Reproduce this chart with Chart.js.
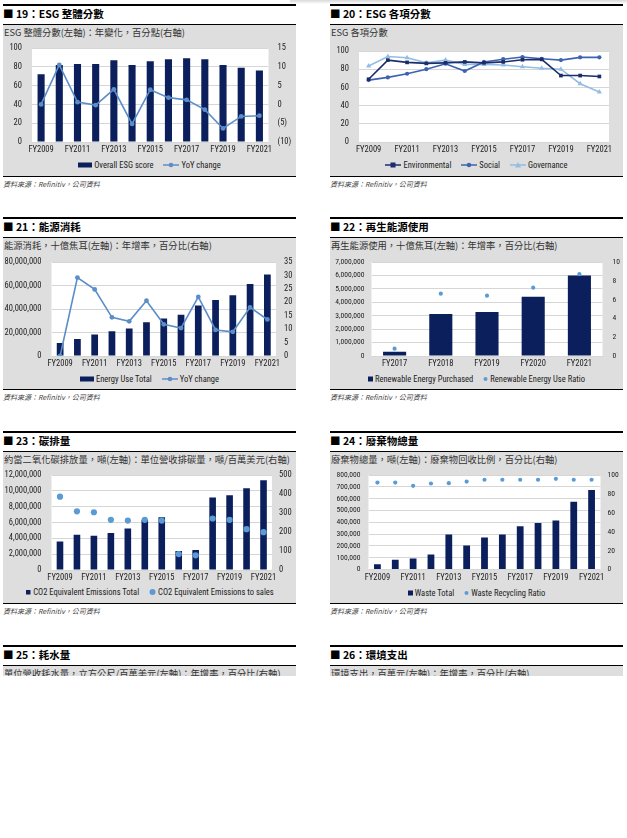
<!DOCTYPE html>
<html><head><meta charset="utf-8">
<script src="https://cdn.jsdelivr.net/npm/chart.js@4.4.0/dist/chart.umd.min.js"></script>
<style>
html,body{margin:0;padding:0;background:#fff;}
body{width:627px;height:838px;position:relative;overflow:hidden;font-family:'Noto Sans CJK TC','Noto Sans',sans-serif;}
.topfade{position:absolute;left:290px;right:0;top:0;height:4px;background:linear-gradient(#d8d8d8,#fff);}
.sec{position:absolute;width:293px;height:186px;}
.tl{position:absolute;left:0;right:0;top:0;height:2px;background:#000;}
.ttl{position:absolute;left:0;top:2px;height:16px;line-height:16px;font-size:10.5px;font-weight:700;color:#000;white-space:nowrap;}
.box{position:absolute;left:0;right:0;top:20px;height:151px;background:#dedede;border-top:1px solid #000;border-bottom:1.5px solid #000;}
.sub{position:absolute;left:1px;top:0px;font-size:9.3px;line-height:14px;color:#333;white-space:nowrap;}
.src{position:absolute;left:0;top:175px;line-height:10px;font-style:italic;font-size:7px;color:#444;white-space:nowrap;}
.leg{position:absolute;left:0;right:0;height:12px;display:flex;justify-content:center;align-items:center;font-family:'Roboto Condensed','DejaVu Sans Condensed',sans-serif;font-size:8.5px;color:#222;white-space:nowrap;}
.leg .it{display:flex;align-items:center;margin:0 5px;}
.leg svg{margin-right:1px;}
canvas{position:absolute;}
.cut{height:10px;border-bottom:none;overflow:hidden;}
</style>
</head><body>
<div class="topfade"></div>

<div class="sec" style="left:3px;top:4px"><div class="tl"></div><div class="ttl">■ 19：ESG 整體分數</div>
 <div class="box"><div class="sub">ESG 整體分數(左軸)：年變化，百分點(右軸)</div></div>
 <div class="leg" style="top:155px">
  <span class="it"><svg width="15" height="6"><rect x="0" y="0.5" width="14" height="5" fill="#0b1f5c"/></svg>Overall ESG score</span>
  <span class="it"><svg width="17" height="8"><line x1="0" y1="4" x2="16" y2="4" stroke="#5b8ec8" stroke-width="1.5"/><circle cx="8" cy="4" r="2.3" fill="#5b8ec8"/></svg>YoY change</span>
 </div>
 <div class="src">資料來源：Refinitiv，公司資料</div></div>

<div class="sec" style="left:330px;top:4px"><div class="tl"></div><div class="ttl">■ 20：ESG 各項分數</div>
 <div class="box"><div class="sub">ESG 各項分數</div></div>
 <div class="leg" style="top:155px">
  <span class="it"><svg width="17" height="8"><line x1="0" y1="4" x2="16" y2="4" stroke="#1c2d6b" stroke-width="1.5"/><rect x="5.5" y="1.5" width="5" height="5" fill="#1c2d6b"/></svg>Environmental</span>
  <span class="it"><svg width="17" height="8"><line x1="0" y1="4" x2="16" y2="4" stroke="#3d63b0" stroke-width="1.5"/><circle cx="8" cy="4" r="2.2" fill="#3d63b0"/></svg>Social</span>
  <span class="it"><svg width="17" height="8"><line x1="0" y1="4" x2="16" y2="4" stroke="#93bde3" stroke-width="1.5"/><polygon points="8,1 11,6.5 5,6.5" fill="#93bde3"/></svg>Governance</span>
 </div>
 <div class="src">資料來源：Refinitiv，公司資料</div></div>

<div class="sec" style="left:3px;top:217px"><div class="tl"></div><div class="ttl">■ 21：能源消耗</div>
 <div class="box"><div class="sub">能源消耗，十億焦耳(左軸)：年增率，百分比(右軸)</div></div>
 <div class="leg" style="top:156px">
  <span class="it"><svg width="15" height="6"><rect x="0" y="0.5" width="14" height="5" fill="#0b1f5c"/></svg>Energy Use Total</span>
  <span class="it"><svg width="17" height="8"><line x1="0" y1="4" x2="16" y2="4" stroke="#5b8ec8" stroke-width="1.5"/><circle cx="8" cy="4" r="2.3" fill="#5b8ec8"/></svg>YoY change</span>
 </div>
 <div class="src">資料來源：Refinitiv，公司資料</div></div>

<div class="sec" style="left:330px;top:217px"><div class="tl"></div><div class="ttl">■ 22：再生能源使用</div>
 <div class="box"><div class="sub">再生能源使用，十億焦耳(左軸)：年增率，百分比(右軸)</div></div>
 <div class="leg" style="top:156px">
  <span class="it"><svg width="6" height="6"><rect x="0" y="0.5" width="5" height="5" fill="#0b1f5c"/></svg>Renewable Energy Purchased</span>
  <span class="it"><svg width="6" height="6"><circle cx="2.5" cy="3" r="2" fill="#5b9bd5"/></svg>Renewable Energy Use Ratio</span>
 </div>
 <div class="src">資料來源：Refinitiv，公司資料</div></div>

<div class="sec" style="left:3px;top:431px"><div class="tl"></div><div class="ttl">■ 23：碳排量</div>
 <div class="box"><div class="sub">約當二氧化碳排放量，噸(左軸)：單位營收排碳量，噸/百萬美元(右軸)</div></div>
 <div class="leg" style="top:155px">
  <span class="it"><svg width="7" height="6"><rect x="1" y="1" width="4.5" height="4.5" fill="#0b1f5c"/></svg>CO2 Equivalent Emissions Total</span>
  <span class="it"><svg width="8" height="8"><circle cx="3.5" cy="4" r="3" fill="#5b9bd5"/></svg>CO2 Equivalent Emissions to sales</span>
 </div>
 <div class="src">資料來源：Refinitiv，公司資料</div></div>

<div class="sec" style="left:330px;top:431px"><div class="tl"></div><div class="ttl">■ 24：廢棄物總量</div>
 <div class="box"><div class="sub">廢棄物總量，噸(左軸)：廢棄物回收比例，百分比(右軸)</div></div>
 <div class="leg" style="top:156px">
  <span class="it"><svg width="6" height="6"><rect x="0" y="0.5" width="5" height="5" fill="#0b1f5c"/></svg>Waste Total</span>
  <span class="it"><svg width="6" height="6"><circle cx="2.5" cy="3" r="2" fill="#5b9bd5"/></svg>Waste Recycling Ratio</span>
 </div>
 <div class="src">資料來源：Refinitiv，公司資料</div></div>

<div class="sec" style="left:3px;top:645px"><div class="tl"></div><div class="ttl">■ 25：耗水量</div>
 <div class="box cut"><div class="sub">單位營收耗水量，立方公尺/百萬美元(左軸)：年增率，百分比(右軸)</div></div></div>
<div class="sec" style="left:330px;top:645px"><div class="tl"></div><div class="ttl">■ 26：環境支出</div>
 <div class="box cut"><div class="sub">環境支出，百萬元(左軸)：年增率，百分比(右軸)</div></div></div>

<canvas id="c19"></canvas><canvas id="c20"></canvas><canvas id="c21"></canvas>
<canvas id="c22"></canvas><canvas id="c23"></canvas><canvas id="c24"></canvas>

<script>
// ---------------- data ----------------
const YEARS = ['FY2009','FY2010','FY2011','FY2012','FY2013','FY2014','FY2015','FY2016','FY2017','FY2018','FY2019','FY2020','FY2021'];
const YEAR_TICKS = ['FY2009','','FY2011','','FY2013','','FY2015','','FY2017','','FY2019','','FY2021'];
const YEARS_RE = ['FY2017','FY2018','FY2019','FY2020','FY2021'];

const ESG_SCORE = [72,82,83,83,87,82,86,88,89,88,82,79,76];
const ESG_YOY = [0,10.5,0.6,-0.2,4.0,-5.2,3.9,1.8,1.2,-1.4,-6.4,-3.2,-3.0];

const ENVIRONMENTAL = [69,90,87.5,86.4,87,88,87,88,90.4,90.8,73,73,72];
const SOCIAL = [68,71,75,80,86,78,88,91,93.4,91.5,90,93,93];
const GOVERNANCE = [83.5,94,92.6,87,90,85.3,85.3,84.6,82.7,81,80,64,55];

const ENERGY_TOTAL = [11.0e6,14.5e6,18.2e6,21.0e6,23.5e6,28.7e6,32.0e6,35.2e6,43.0e6,47.6e6,51.6e6,61.2e6,69.3e6];
const ENERGY_YOY = [0,29.2,24.8,14.4,12.9,20.6,11.8,10.4,22.0,9.7,9.0,18.1,13.6];

const RE_PURCHASED = [0.32e6,3.13e6,3.28e6,4.42e6,6.0e6];
const RE_RATIO = [0.78,6.63,6.42,7.27,8.72];

const CO2_TOTAL = [3.6e6,4.45e6,4.32e6,4.66e6,5.25e6,6.34e6,6.67e6,2.39e6,2.52e6,9.15e6,9.44e6,10.32e6,11.33e6];
const CO2_TO_SALES = [386,309,304,264,260,264,260,84,77,271,264,215,199];

const WASTE_TOTAL = [45e3,82e3,93e3,127e3,297e3,203e3,271e3,297e3,367e3,393e3,415e3,573e3,672e3];
const WASTE_RATIO = [92,92,88.5,91,91.3,93,95,95,95,95,96,95,95];

// ---------------- styling ----------------
const NAVY = '#0b1f5c', LINEBLUE = '#5b8ec8', DOT = '#5b9bd5';
const NARROW = "'Roboto Condensed','DejaVu Sans Condensed',sans-serif";
Chart.defaults.font.family = NARROW;
Chart.defaults.font.size = 8.5;
Chart.defaults.color = '#222';
Chart.defaults.animation = false;
Chart.defaults.plugins.legend.display = false;
Chart.defaults.plugins.tooltip.enabled = false;

const whiteArea = {id:'whiteArea', beforeDraw(c){const a=c.chartArea,x=c.ctx;x.save();x.fillStyle='#fff';x.fillRect(a.left,a.top,a.right-a.left,a.bottom-a.top);x.restore();}};

const fmt = v => Number(v).toLocaleString('en-US');
const paren = v => v < 0 ? '(' + (-v) + ')' : String(v);

// gap = distance between tick labels and plot edge (done with an invisible tick mark so it does not pad the top)
function build(id, panelX, topY, plot, xTicks, datasets, yL, gapL, yR, gapR, fontSize){
  const canvasRect = [panelX-12, topY, 293+24, 124];
  const cv = document.getElementById(id);
  cv.style.left = canvasRect[0]+'px'; cv.style.top = canvasRect[1]+'px';
  cv.width = canvasRect[2]; cv.height = canvasRect[3];
  cv.style.width = canvasRect[2]+'px'; cv.style.height = canvasRect[3]+'px';
  const hX = canvasRect[1]+canvasRect[3]-plot[3];
  const wL = plot[0]-canvasRect[0];
  const wR = canvasRect[0]+canvasRect[2]-plot[2];
  const fs = fontSize || 8.5;
  const scales = {
    x: {type:'category', offset:true, grid:{display:false, drawTicks:false}, border:{display:false},
        ticks:{autoSkip:false, maxRotation:0, padding:3, font:{size:8.5}, callback:(v,i)=>xTicks[i]},
        afterFit:s=>{s.height=hX;}},
    y: Object.assign({position:'left', grid:{color:'#d6d6d6', lineWidth:1, drawTicks:true, tickLength:gapL, tickColor:'rgba(0,0,0,0)'}, border:{display:false},
        afterFit:s=>{s.width=wL;}}, yL)
  };
  scales.y.ticks = Object.assign({padding:0, autoSkip:false, font:{size:fs}}, yL.ticks||{});
  if (yR){
    scales.y1 = Object.assign({position:'right', grid:{display:true, drawOnChartArea:false, drawTicks:true, tickLength:gapR, tickColor:'rgba(0,0,0,0)'}, border:{display:false},
        afterFit:s=>{s.width=wR;}}, yR);
    scales.y1.ticks = Object.assign({padding:0, autoSkip:false, font:{size:fs}}, yR.ticks||{});
  }
  const pad = {left:0, right:yR?0:wR, top:plot[1]-canvasRect[1], bottom:0};
  new Chart(cv, {
    type:'bar',
    data:{labels: xTicks.length===YEARS.length?YEARS:YEARS_RE, datasets},
    options:{responsive:false, maintainAspectRatio:false, layout:{padding:pad}, scales},
    plugins:[whiteArea]
  });
}

// chart 19
build('c19',3,38,[32,48,268.5,142],YEAR_TICKS,[
  {type:'line',label:'YoY change',data:ESG_YOY,yAxisID:'y1',borderColor:LINEBLUE,backgroundColor:LINEBLUE,borderWidth:1.6,pointRadius:2.4,pointBorderWidth:0,order:0},
  {type:'bar',label:'Overall ESG score',data:ESG_SCORE,yAxisID:'y',backgroundColor:NAVY,categoryPercentage:1,barPercentage:0.39,order:1}
],{min:0,max:100,ticks:{stepSize:20}},10,{min:-10,max:15,ticks:{stepSize:5,callback:paren}},9);

// chart 20
build('c20',330,38,[359,51,609,142],YEAR_TICKS,[
  {type:'line',label:'Environmental',data:ENVIRONMENTAL,yAxisID:'y',borderColor:'#1c2d6b',backgroundColor:'#1c2d6b',borderWidth:1.6,pointStyle:'rect',pointRadius:2.6,pointBorderWidth:0,order:0},
  {type:'line',label:'Social',data:SOCIAL,yAxisID:'y',borderColor:'#3d63b0',backgroundColor:'#3d63b0',borderWidth:1.6,pointStyle:'circle',pointRadius:2.1,pointBorderWidth:0,order:1},
  {type:'line',label:'Governance',data:GOVERNANCE,yAxisID:'y',borderColor:'#93bde3',backgroundColor:'#93bde3',borderWidth:1.6,pointStyle:'triangle',pointRadius:3,pointBorderWidth:0,order:2}
],{min:0,max:100,ticks:{stepSize:20}},10,null,0);

// chart 21
build('c21',3,251,[51.5,262,276,356],YEAR_TICKS,[
  {type:'line',label:'YoY change',data:ENERGY_YOY,yAxisID:'y1',borderColor:LINEBLUE,backgroundColor:LINEBLUE,borderWidth:1.6,pointRadius:2.4,pointBorderWidth:0,order:0},
  {type:'bar',label:'Energy Use Total',data:ENERGY_TOTAL,yAxisID:'y',backgroundColor:NAVY,categoryPercentage:1,barPercentage:0.39,order:1}
],{min:0,max:80000000,ticks:{stepSize:20000000,callback:fmt}},10,{min:0,max:35,ticks:{stepSize:5}},8);

// chart 22
build('c22',330,251,[371.5,262,602.5,356],YEARS_RE,[
  {type:'line',label:'Renewable Energy Use Ratio',data:RE_RATIO,yAxisID:'y1',showLine:false,borderColor:DOT,backgroundColor:DOT,pointRadius:2.1,pointBorderWidth:0,order:0},
  {type:'bar',label:'Renewable Energy Purchased',data:RE_PURCHASED,yAxisID:'y',backgroundColor:NAVY,categoryPercentage:1,barPercentage:0.5,order:1}
],{min:0,max:7000000,ticks:{stepSize:1000000,callback:fmt}},7,{min:0,max:10,ticks:{stepSize:2}},10,7.6);

// chart 23
build('c23',3,464,[51.5,475,272,570],YEAR_TICKS,[
  {type:'line',label:'CO2 Equivalent Emissions to sales',data:CO2_TO_SALES,yAxisID:'y1',showLine:false,borderColor:DOT,backgroundColor:DOT,pointRadius:3.1,pointBorderWidth:0,order:0},
  {type:'bar',label:'CO2 Equivalent Emissions Total',data:CO2_TOTAL,yAxisID:'y',backgroundColor:NAVY,categoryPercentage:1,barPercentage:0.39,order:1}
],{min:0,max:12000000,ticks:{stepSize:2000000,callback:fmt}},10,{min:0,max:500,ticks:{stepSize:100}},7);

// chart 24
build('c24',330,464,[368.5,475,600.5,569.5],YEAR_TICKS,[
  {type:'line',label:'Waste Recycling Ratio',data:WASTE_RATIO,yAxisID:'y1',showLine:false,borderColor:DOT,backgroundColor:DOT,pointRadius:2.1,pointBorderWidth:0,order:0},
  {type:'bar',label:'Waste Total',data:WASTE_TOTAL,yAxisID:'y',backgroundColor:NAVY,categoryPercentage:1,barPercentage:0.38,order:1}
],{min:0,max:800000,ticks:{stepSize:100000,callback:fmt}},8,{min:0,max:100,ticks:{stepSize:20}},7,7.6);
</script>
</body></html>
